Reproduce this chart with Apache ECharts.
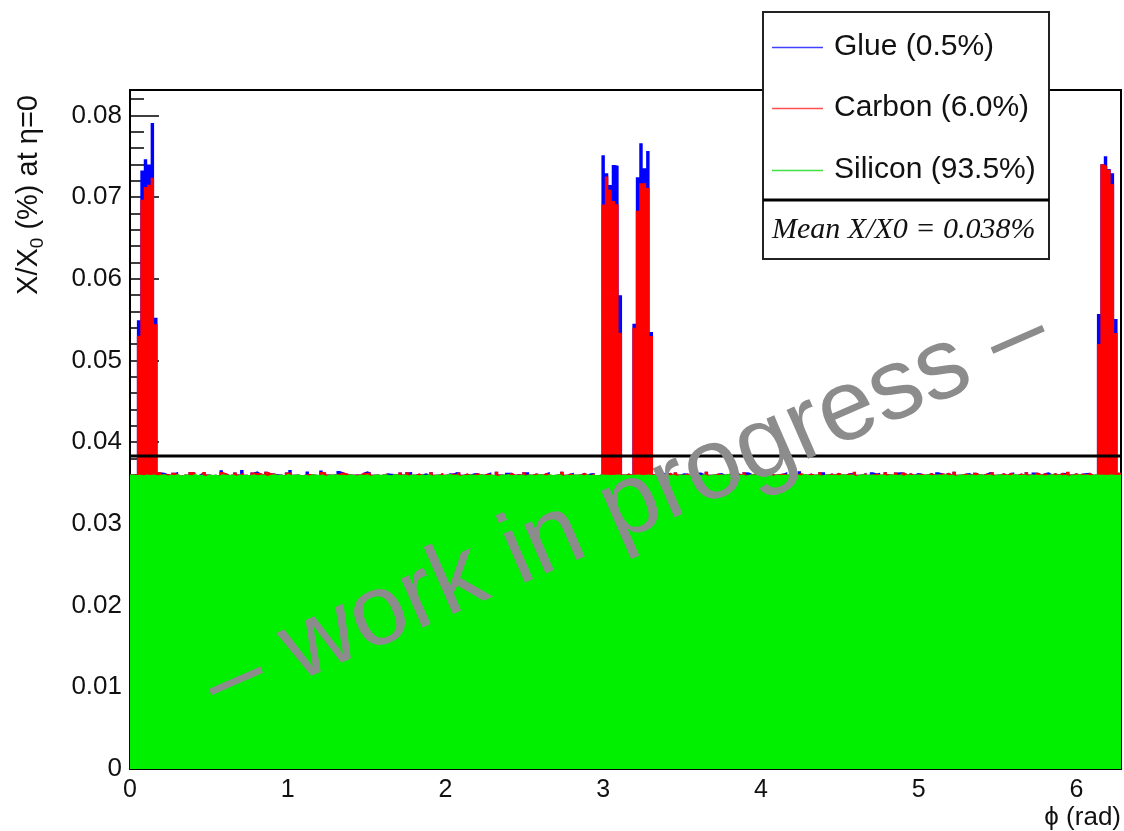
<!DOCTYPE html>
<html><head><meta charset="utf-8">
<script src="https://cdn.jsdelivr.net/npm/echarts@6/dist/echarts.min.js"></script>
<style>html,body{margin:0;padding:0;background:#fff}#c{width:1124px;height:831px}</style>
</head><body><div id="c"></div>
<script>
// ---- data ----
const nBins = 288;
const phiMax = 6.2832;
const yMax = 0.0831;
const xTickLabels = ['0','1','2','3','4','5','6'];
const meanValue = 0.0383;
const legendLabels = ['Glue (0.5%)', 'Carbon (6.0%)', 'Silicon (93.5%)'];
const meanLabel = 'Mean X/X0 = 0.038%';

const silicon = [
0.03604,0.03598,0.03601,0.03596,0.03603,0.03599,0.03605,0.03594,0.03602,0.03607,0.03591,0.03600,
0.03597,0.03606,0.03589,0.03603,0.03600,0.03595,0.03609,0.03598,0.03602,0.03586,0.03604,0.03599,
0.03601,0.03593,0.03606,0.03600,0.03597,0.03603,0.03590,0.03605,0.03599,0.03602,0.03596,0.03608,
0.03594,0.03601,0.03604,0.03587,0.03600,0.03606,0.03598,0.03603,0.03595,0.03610,0.03599,0.03602,
0.03605,0.03596,0.03601,0.03592,0.03607,0.03600,0.03597,0.03604,0.03589,0.03603,0.03600,0.03606,
0.03598,0.03602,0.03595,0.03608,0.03601,0.03593,0.03605,0.03599,0.03603,0.03588,0.03600,0.03604,
0.03597,0.03606,0.03600,0.03594,0.03609,0.03602,0.03598,0.03603,0.03591,0.03605,0.03600,0.03596,
0.03603,0.03599,0.03607,0.03592,0.03601,0.03605,0.03596,0.03600,0.03611,0.03598,0.03604,0.03590,
0.03602,0.03597,0.03605,0.03600,0.03594,0.03608,0.03601,0.03596,0.03603,0.03599,0.03587,0.03604,
0.03600,0.03606,0.03595,0.03602,0.03598,0.03605,0.03591,0.03603,0.03600,0.03597,0.03609,0.03601,
0.03594,0.03604,0.03599,0.03602,0.03606,0.03588,0.03601,0.03597,0.03605,0.03600,0.03603,0.03595,
0.03608,0.03599,0.03602,0.03596,0.03604,0.03600,0.03602,0.03598,0.03601,0.03603,0.03599,0.03605,
0.03597,0.03602,0.03600,0.03603,0.03599,0.03601,0.03604,0.03598,0.03606,0.03593,0.03601,0.03607,
0.03596,0.03603,0.03590,0.03605,0.03600,0.03598,0.03608,0.03594,0.03602,0.03599,0.03606,0.03589,
0.03601,0.03604,0.03597,0.03603,0.03600,0.03610,0.03595,0.03602,0.03598,0.03605,0.03592,0.03600,
0.03606,0.03599,0.03603,0.03596,0.03601,0.03607,0.03588,0.03604,0.03600,0.03597,0.03605,0.03602,
0.03598,0.03603,0.03594,0.03609,0.03600,0.03596,0.03602,0.03605,0.03591,0.03601,0.03604,0.03598,
0.03603,0.03595,0.03606,0.03600,0.03599,0.03604,0.03587,0.03602,0.03607,0.03597,0.03601,0.03603,
0.03596,0.03605,0.03600,0.03593,0.03608,0.03601,0.03598,0.03603,0.03590,0.03606,0.03599,0.03602,
0.03604,0.03597,0.03601,0.03606,0.03594,0.03600,0.03603,0.03599,0.03609,0.03596,0.03602,0.03588,
0.03601,0.03605,0.03598,0.03603,0.03600,0.03595,0.03607,0.03602,0.03597,0.03604,0.03591,0.03600,
0.03606,0.03599,0.03602,0.03596,0.03610,0.03601,0.03598,0.03604,0.03593,0.03603,0.03600,0.03597,
0.03605,0.03592,0.03601,0.03607,0.03599,0.03603,0.03596,0.03602,0.03589,0.03604,0.03600,0.03606,
0.03598,0.03603,0.03595,0.03601,0.03604,0.03600,0.03602,0.03599,0.03603,0.03601,0.03597,0.03605
];

const carbon = [
0,0.0001,0.0170,0.0337,0.0352,0.0355,0.0363,0.0185,0.0003,0,0.0002,0,
0.0003,0,0,0,0,0.0004,0.0002,0,0,0.0005,0,0,
0,0,0.0003,0.0002,0,0,0.0004,0,0.0003,0,0,0.0002,
0.0003,0.0002,0,0.0005,0.0002,0.0001,0,0,0,0.0002,0.0003,0,
0,0,0,0.0002,0,0,0,0.0003,0.0004,0,0,0,
0.0002,0.0003,0.0002,0,0,0.0001,0,0.0003,0.0002,0.0004,0,0,
0,0,0.0002,0,0,0,0.0003,0,0.0004,0,0,0.0002,
0,0,0,0.0004,0,0,0.0003,0,0,0.0002,0,0.0004,
0,0.0002,0,0,0.0003,0,0,0.0002,0,0,0.0005,0,
0,0,0.0003,0,0.0001,0,0.0004,0,0,0.0002,0,0,
0.0003,0,0,0,0,0.0005,0,0.0002,0,0,0,0.0003,
0,0,0.0002,0,0,0.0331,0.0365,0.0349,0.0335,0.0331,0.0174,0,
0.0002,0,0.0180,0.0323,0.0357,0.0357,0.0351,0.0170,0,0.0004,0,0,
0.0003,0,0.0004,0,0,0.0002,0,0.0003,0,0,0,0.0005,
0,0,0.0002,0,0,0,0.0003,0,0.0002,0,0.0004,0,
0,0.0002,0,0.0003,0,0,0.0005,0,0.0001,0.0002,0,0,
0.0002,0,0.0003,0,0,0.0002,0,0,0.0004,0,0,0.0002,
0,0.0003,0,0,0.0002,0,0.0005,0,0,0.0003,0,0,
0.0002,0,0,0.0004,0,0,0.0003,0,0.0004,0,0.0002,0,
0,0.0002,0,0,0.0003,0,0,0.0002,0,0.0003,0,0.0005,
0,0,0.0002,0,0,0.0003,0,0,0.0002,0,0.0004,0,
0,0.0002,0,0.0003,0,0,0.0002,0,0.0004,0,0,0.0003,
0,0.0003,0,0,0.0002,0,0.0003,0,0.0005,0,0.0002,0,
0.0002,0,0.0003,0,0,0.0160,0.0380,0.0378,0.0373,0.0356,0.0174,0.0002
];

const glue = [
0,0,0.0019,0.0036,0.0034,0.0025,0.0067,0.0008,0,0.0002,0,0,
0,0.0003,0,0,0,0,0,0,0.0002,0,0,0,
0,0,0.0002,0,0,0,0,0,0.0003,0,0,0,
0.0002,0,0,0,0,0,0.0001,0,0,0,0.0003,0,
0,0,0,0.0003,0,0,0,0.0002,0,0,0,0,
0.0003,0,0,0,0,0,0,0,0.0002,0,0,0,
0,0,0,0.0002,0,0,0,0,0,0.0003,0,0,
0,0.0002,0,0,0,0,0,0,0.0001,0,0.0003,0,
0,0,0,0.0002,0,0,0,0,0.0003,0,0,0,
0,0.0002,0,0,0,0,0,0.0003,0,0,0,0,
0,0.0003,0,0,0,0,0,0,0.0002,0,0,0,
0,0.0002,0,0,0,0.0060,0.0004,0.0006,0.0044,0.0047,0.0046,0,
0,0,0.0005,0.0041,0.0049,0.0018,0.0045,0.0005,0,0,0.0003,0,
0,0,0,0,0.0002,0,0,0,0,0.0003,0,0,
0,0,0,0.0002,0,0,0,0,0,0,0,0.0003,
0,0,0,0,0.0002,0,0,0,0,0,0.0003,0,
0,0,0.0002,0,0,0,0,0,0,0.0003,0,0,
0,0,0,0,0,0.0002,0,0,0,0,0,0.0003,
0,0.0002,0,0,0,0,0,0.0003,0,0,0,0,
0.0002,0,0,0,0,0,0.0003,0,0,0,0,0,
0,0,0,0.0002,0,0,0,0,0,0.0003,0,0,
0,0,0,0,0.0002,0,0,0,0,0,0.0003,0,
0,0,0.0003,0,0,0,0,0.0002,0,0,0,0,
0,0.0002,0,0,0,0.0037,0,0.0012,0.0001,0.0013,0.0017,0
];

// ---- build step-histogram series (cumulative stack drawn back to front) ----
const binW = phiMax / nBins;
const cumSiC = silicon.map((v, i) => v + carbon[i]);
const cumAll = cumSiC.map((v, i) => v + glue[i]);
function histData(arr) {
  const d = arr.map((v, i) => [i * binW, v]);
  d.push([phiMax, arr[arr.length - 1]]);
  return d;
}
const FONT = "'Liberation Sans', Arial, Helvetica, sans-serif";
function area(name, arr, color, z) {
  return {
    name, type: 'line', step: 'end', data: histData(arr),
    symbol: 'none', showSymbol: false, silent: true, z: z,
    lineStyle: { width: 0, opacity: 0 },
    areaStyle: { color: color, opacity: 1 }
  };
}

const chart = echarts.init(document.getElementById('c'), null, { renderer: 'canvas' });
chart.setOption({
  animation: false,
  backgroundColor: '#fff',
  grid: { left: 130, right: 3, top: 90, bottom: 62, show: true, borderColor: '#000', borderWidth: 2,
          backgroundColor: 'transparent', outerBoundsMode: 'none' },
  xAxis: {
    type: 'value', min: 0, max: phiMax, interval: 1,
    axisLine: { show: true, onZero: false, lineStyle: { color: '#000', width: 2 } },
    axisTick: { show: false },
    splitLine: { show: false },
    axisLabel: { fontSize: 25, color: '#111', fontFamily: FONT, margin: 9, showMaxLabel: false,
                 formatter: v => xTickLabels[Math.round(v)] }
  },
  yAxis: [{
    type: 'value', min: 0, max: yMax, interval: 0.01, position: 'left',
    axisLine: { show: true, lineStyle: { color: '#000', width: 2 } },
    axisTick: { show: true, inside: true, length: 29, lineStyle: { color: '#000', width: 1.5 } },
    splitLine: { show: false },
    axisLabel: { fontSize: 26, color: '#111', fontFamily: FONT, margin: 8, showMaxLabel: false,
                 formatter: v => v === 0 ? '0' : v.toFixed(2) }
  }, {
    type: 'value', min: 0, max: yMax, interval: 0.002, position: 'left',
    axisLine: { show: false },
    axisTick: { show: true, inside: true, length: 14, lineStyle: { color: '#000', width: 1.5 } },
    splitLine: { show: false },
    axisLabel: { show: false }
  }],
  series: [
    area('Glue', cumAll, '#0000ff', 2),
    area('Carbon', cumSiC, '#ff0000', 3),
    area('Silicon', silicon, '#00f000', 4),
    {
      name: 'mean', type: 'line', data: [[0, meanValue], [phiMax, meanValue]],
      symbol: 'none', silent: true, z: 6,
      lineStyle: { color: '#000', width: 3 }
    }
  ],
  graphic: [
    { type: 'text', x: 29, y: 95, rotation: Math.PI / 2, z: 50,
      style: { text: '{a|X/X}{s|0}{a| (%) at η=0}', align: 'right', verticalAlign: 'middle',
               rich: { a: { fontSize: 29, fontFamily: FONT, fill: '#111', lineHeight: 37 },
                       s: { fontSize: 19, fontFamily: FONT, fill: '#111', lineHeight: 19, verticalAlign: 'bottom' } } } },
    { type: 'text', x: 1121, y: 818, z: 50,
      style: { text: 'ϕ (rad)', fontSize: 26, fontFamily: FONT, fill: '#111', align: 'right', verticalAlign: 'middle' } },
    { type: 'text', x: 626, y: 508, rotation: 0.412, z: 60,
      style: { text: '– work in progress –', fontSize: 101, fontFamily: FONT, fill: '#8c8c8c',
               align: 'center', verticalAlign: 'middle' } },
    { type: 'rect', z: 70, shape: { x: 763, y: 12, width: 286, height: 247 },
      style: { fill: '#fff', stroke: '#222', lineWidth: 2 } },
    { type: 'line', z: 71, shape: { x1: 763, y1: 200, x2: 1049, y2: 200 },
      style: { stroke: '#000', lineWidth: 3 } },
    { type: 'line', z: 71, shape: { x1: 772, y1: 47.5, x2: 823, y2: 47.5 }, style: { stroke: '#4040ff', lineWidth: 1.3 } },
    { type: 'line', z: 71, shape: { x1: 772, y1: 108.5, x2: 823, y2: 108.5 }, style: { stroke: '#ff5050', lineWidth: 1.3 } },
    { type: 'line', z: 71, shape: { x1: 772, y1: 170.5, x2: 823, y2: 170.5 }, style: { stroke: '#40e040', lineWidth: 1.3 } },
    { type: 'text', z: 72, x: 834, y: 47, style: { text: legendLabels[0], fontSize: 30, fontFamily: FONT, fill: '#111', verticalAlign: 'middle' } },
    { type: 'text', z: 72, x: 834, y: 108, style: { text: legendLabels[1], fontSize: 30, fontFamily: FONT, fill: '#111', verticalAlign: 'middle' } },
    { type: 'text', z: 72, x: 834, y: 170, style: { text: legendLabels[2], fontSize: 30, fontFamily: FONT, fill: '#111', verticalAlign: 'middle' } },
    { type: 'text', z: 72, x: 772, y: 230, style: { text: meanLabel, fontSize: 30, fontStyle: 'italic',
      fontFamily: "'Liberation Serif', 'Times New Roman', serif", fill: '#111', verticalAlign: 'middle' } }
  ]
});
</script></body></html>
